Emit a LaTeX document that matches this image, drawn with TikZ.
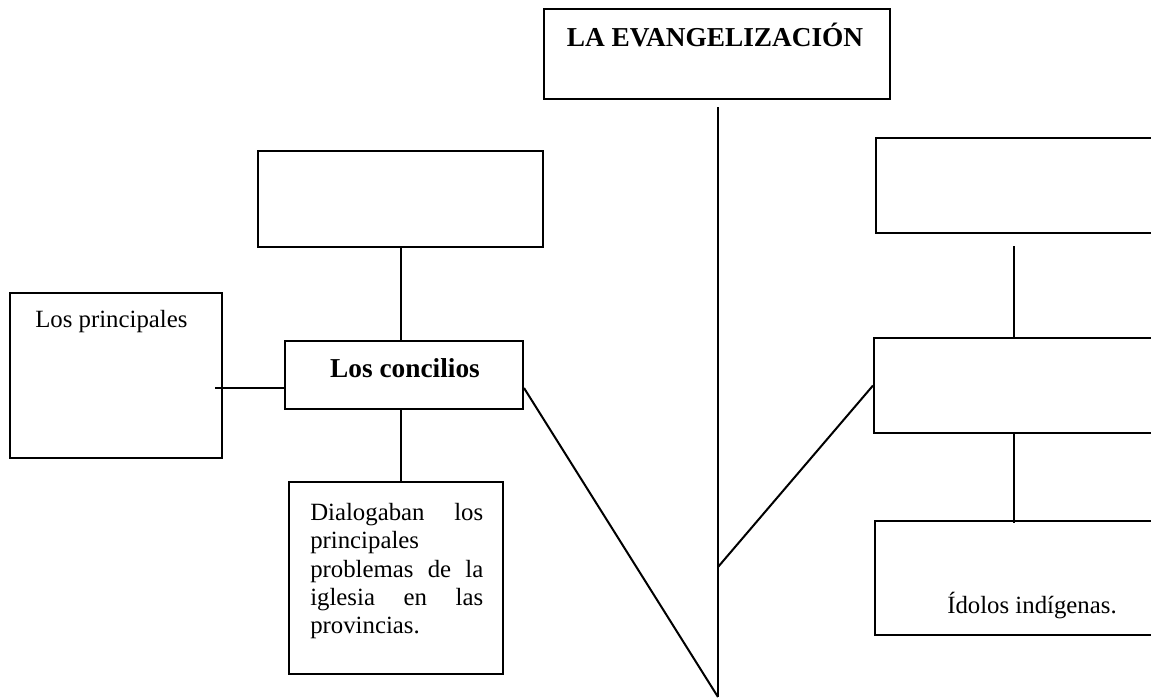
\documentclass[tikz,border=0pt]{standalone}
\usepackage{fontspec}
\setmainfont{Liberation Serif}
\usetikzlibrary{calc}
\tikzset{
  box/.style={draw, line width=1.5pt, rectangle, inner sep=0pt},
  bsize/.style 2 args={minimum width=#1*0.75pt, minimum height=#2*0.75pt},
  rtext/.style={inner sep=0pt, font=\fontsize{18.6}{21.2}\selectfont},
  btext/.style={inner sep=0pt, font=\fontsize{20.5}{24}\selectfont\bfseries},
  link/.style={line width=1.5pt},
}
\newcommand{\jline}[1]{\makebox[129.75pt][l]{#1}}
\begin{document}
\begin{tikzpicture}[x=0.75pt,y=-0.75pt]
\useasboundingbox (0,0) rectangle (1151,699);
\clip (0,0) rectangle (1151,699);
% boxes
\node[box, bsize={346}{90}] (title) at (717,54) {};
\node[box, bsize={285}{96}] (tl) at (400.5,199) {};
\node[box, bsize={212}{165}] (lp) at (116,375.5) {};
\node[box, bsize={238}{68}] (conc) at (404,375) {};
\node[box, bsize={214}{192}] (dial) at (396,578) {};
\node[box, bsize={315}{95}] (rt) at (1033.5,185.5) {};
\node[box, bsize={317}{95}] (rm) at (1032.5,385.5) {};
\node[box, bsize={316}{114}] (rb) at (1033,578) {};
% texts
\node[btext, anchor=base] (titletxt) at (715,47) {LA EVANGELIZACIÓN};
\node[rtext, anchor=base west] (lptxt) at (35,327) {Los principales};
\node[btext, anchor=base] (conctxt) at (405,377) {Los concilios};
\node[rtext, anchor=base west] (rbtxt) at (947,613) {Ídolos indígenas.};
\node[rtext, anchor=north west, text width=129.75pt, align=left] (dialtxt) at (310,503)
  {\jline{Dialogaban\hfill los}\\
   principales\\
   \jline{problemas\hfill de\hfill la}\\
   \jline{iglesia\hfill en\hfill las}\\
   provincias.};
% helper coordinates
\coordinate (spinebot) at (718,697);
\coordinate (junc) at (718,567);
\coordinate (lvl) at (0,388);
\coordinate (rx) at (1014,0);
% connectors
\draw[link] ($(title.south -| spinebot)+(0,7)$) -- (spinebot);
\draw[link] (tl.south) -- (tl.south |- conc.north);
\draw[link] (tl.south |- conc.south) -- (tl.south |- dial.north);
\draw[link] ($(lp.east |- lvl)+(-8,0)$) -- (conc.west |- lvl);
\draw[link] (conc.east |- lvl) -- (spinebot);
\draw[link] (junc) -- (rm.west);
\draw[link] ($(rt.south -| rx)+(0,12)$) -- (rm.north -| rx);
\draw[link] (rm.south -| rx) -- ($(rb.north -| rx)+(0,3)$);
\end{tikzpicture}
\end{document}
